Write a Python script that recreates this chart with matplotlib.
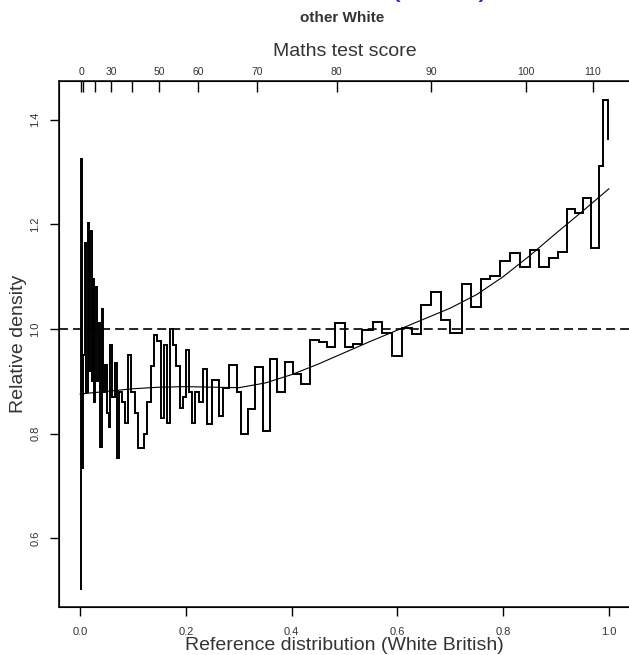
import numpy as np
import matplotlib
matplotlib.use("Agg")
import matplotlib.pyplot as plt

plt.rcParams['font.family'] = ['Liberation Sans', 'DejaVu Sans']
plt.rcParams['lines.scale_dashes'] = False

# relative density histogram: bin edges on the reference-quantile scale and heights
bin_edges = [0.000, 0.001, 0.004, 0.006, 0.009, 0.012, 0.014, 0.017, 0.019, 0.022,
             0.024, 0.027, 0.029, 0.032, 0.035, 0.038, 0.041, 0.044, 0.047, 0.050,
             0.054, 0.057, 0.061, 0.065, 0.069, 0.074, 0.079, 0.085, 0.091, 0.097,
             0.103, 0.110, 0.120, 0.127, 0.134, 0.140, 0.146, 0.152, 0.158, 0.164,
             0.170, 0.176, 0.182, 0.188, 0.194, 0.200, 0.206, 0.212, 0.218, 0.225,
             0.232, 0.239, 0.249, 0.262, 0.271, 0.282, 0.296, 0.304, 0.317, 0.331,
             0.345, 0.359, 0.373, 0.388, 0.402, 0.418, 0.434, 0.451, 0.467, 0.482,
             0.501, 0.517, 0.534, 0.553, 0.571, 0.589, 0.608, 0.627, 0.644, 0.664,
             0.682, 0.699, 0.722, 0.740, 0.758, 0.775, 0.795, 0.813, 0.832, 0.851,
             0.868, 0.887, 0.904, 0.921, 0.936, 0.951, 0.967, 0.981, 0.988, 0.999,
             1.000]
rel_density = [0.503, 1.325, 0.735, 0.950, 1.164, 0.880, 1.202, 0.920, 1.188,
               0.900, 1.095, 0.860, 1.081, 0.900, 1.012, 0.775, 1.038, 0.880, 0.931,
               0.840, 0.813, 0.970, 0.870, 0.936, 0.753, 0.880, 0.860, 0.820, 0.950,
               0.880, 0.840, 0.773, 0.800, 0.860, 0.930, 0.989, 0.978, 0.830, 0.970,
               0.820, 1.000, 0.970, 0.930, 0.850, 0.870, 0.960, 0.880, 0.820, 0.880,
               0.860, 0.923, 0.818, 0.903, 0.834, 0.887, 0.931, 0.880, 0.799, 0.847,
               0.927, 0.806, 0.943, 0.880, 0.937, 0.914, 0.896, 0.980, 0.976, 0.965,
               1.011, 0.966, 0.971, 0.998, 1.014, 0.992, 0.948, 1.003, 0.990, 1.046,
               1.070, 1.017, 0.993, 1.086, 1.043, 1.095, 1.102, 1.130, 1.146, 1.118,
               1.151, 1.119, 1.135, 1.148, 1.229, 1.222, 1.251, 1.154, 1.311, 1.437,
               1.364]

# smoothed relative density
smooth_x = [0.00, 0.05, 0.10, 0.15, 0.20, 0.25, 0.30, 0.35, 0.40, 0.45, 0.50,
            0.55, 0.60, 0.65, 0.70, 0.75, 0.80, 0.85, 0.90, 0.95, 1.00]
smooth_y = [0.876, 0.881, 0.886, 0.889, 0.890, 0.889, 0.888, 0.897, 0.913, 0.933,
            0.955, 0.977, 0.998, 1.019, 1.040, 1.066, 1.100, 1.140, 1.183, 1.225,
            1.268]

# top axis: maths test score at its reference quantile
score_pos = [0.002, 0.006, 0.028, 0.059, 0.098, 0.149, 0.223, 0.335, 0.485,
             0.664, 0.843, 0.970]
score_labels = ['0', '', '', '30', '', '50', '60', '70', '80', '90', '100', '110']

x_ticks = [0.0, 0.2, 0.4, 0.6, 0.8, 1.0]
y_ticks = [0.6, 0.8, 1.0, 1.2, 1.4]

W, H = 629, 655
fig = plt.figure(figsize=(W / 100, H / 100), dpi=100)
ax = fig.add_axes([59 / W, 1 - 607 / H, (630 - 59) / W, (607 - 81) / H])

ax.stairs(rel_density, bin_edges, baseline=None, color='black', lw=1.4)
ax.plot(smooth_x, smooth_y, color='black', lw=0.8)
ax.axhline(1.0, color='black', lw=1.2, dashes=(6.5, 3.6))

ax.set_xlim(-0.04, 1.04)
ax.set_ylim(0.469, 1.474)
for s in ax.spines.values():
    s.set_linewidth(1.1)
ax.spines['right'].set_visible(False)

ax.set_xticks(x_ticks)
ax.set_xticklabels([f'{t:.1f}' for t in x_ticks])
ax.set_yticks(y_ticks)
ax.set_yticklabels([f'{t:.1f}' for t in y_ticks], rotation=90, va='center')
ax.tick_params(axis='x', direction='out', length=6.5, width=1, pad=8,
               labelsize=8, colors='black', labelcolor='#333333')
ax.tick_params(axis='y', direction='out', length=6.5, width=1, pad=7,
               labelsize=8, labelcolor='#333333')

ax.set_ylabel('Relative density', fontsize=14, color='#333333')
ax.yaxis.set_label_coords(-0.056, 0.5)

top = ax.twiny()
top.set_xlim(ax.get_xlim())
top.spines['right'].set_visible(False)
top.set_xticks(score_pos)
top.set_xticklabels(score_labels)
top.tick_params(axis='x', direction='in', length=8, width=1, pad=3,
                labelsize=7.5, labelcolor='#333333')
top.set_xlabel('Maths test score', fontsize=14, color='#333333', labelpad=8)

fig.text(344 / W, 1 - 645 / H, 'Reference distribution (White British)',
         ha='center', va='center', fontsize=14, color='#333333')
fig.text(342 / W, 1 - 18 / H, 'other White', ha='center', va='center',
         fontsize=11, fontweight='bold', color='#333333')
# title above the frame: only the descenders are visible in the reference
fig.text(490 / W, 1 + 5 / H, 'KS2, Maths (2006)', ha='right', va='baseline',
         fontsize=25, color='#2b2bd0')

fig.savefig('out.png', dpi=100, facecolor='white')
